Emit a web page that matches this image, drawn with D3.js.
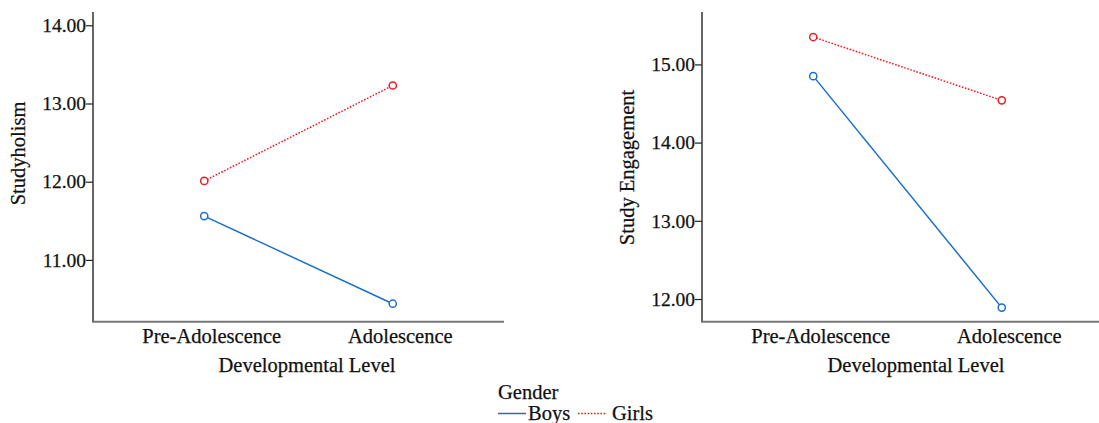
<!DOCTYPE html>
<html>
<head>
<meta charset="utf-8">
<script src="https://cdn.jsdelivr.net/npm/d3@7"></script>
<style>
  body { margin: 0; background: #fff; }
  svg { display: block; font-family: "Liberation Serif", serif; }
  text { fill: #111; stroke: #111; stroke-width: 0.25px; }
</style>
</head>
<body>
<svg id="chart" width="1099" height="423"></svg>
<script>
// ---- data ----
const categories = ["Pre-Adolescence", "Adolescence"];
const seriesNames = ["Boys", "Girls"];
const studyholismBoys = [11.56, 10.44];
const studyholismGirls = [12.01, 13.23];
const engagementBoys = [14.85, 11.89];
const engagementGirls = [15.35, 14.54];
const studyholismTicks = [11, 12, 13, 14];
const engagementTicks = [12, 13, 14, 15];

const colors = { Boys: "#1a70c6", Girls: "#ee1c25" };
const dashes = { Boys: null, Girls: "1.6,1.6" };

const svg = d3.select("#chart");
const tickFont = 19.5;
const fontSize = 20.5;

function panel(opts) {
  const g = svg.append("g");
  const x = d3.scalePoint().domain(categories).range([opts.left, opts.right]).padding(0.59);
  const y = d3.scaleLinear().domain(opts.domain).range([opts.bottom, opts.top]);

  // y axis
  const yAxis = g.append("g").attr("transform", `translate(${opts.left},0)`)
    .call(d3.axisLeft(y).tickValues(opts.ticks).tickFormat(d3.format(".2f")).tickSize(7).tickPadding(0));
  yAxis.select(".domain").remove();
  yAxis.selectAll(".tick line").attr("stroke", "#222").attr("stroke-width", 1.2);
  yAxis.selectAll(".tick text").attr("font-size", tickFont).attr("font-family", "Liberation Serif").attr("fill", "#111");
  g.append("line").attr("x1", opts.left).attr("x2", opts.left)
    .attr("y1", opts.top).attr("y2", opts.bottom + 0.8)
    .attr("stroke", "#333").attr("stroke-width", 1.5);

  // x axis
  const xAxis = g.append("g").attr("transform", `translate(0,${opts.bottom})`)
    .call(d3.axisBottom(x).tickSize(0).tickPadding(7));
  xAxis.select(".domain").remove();
  xAxis.selectAll(".tick text").attr("font-size", fontSize).attr("font-family", "Liberation Serif")
    .attr("fill", "#111").attr("dx", 7).attr("dy", "0.71em");
  g.append("line").attr("x1", opts.left).attr("x2", opts.right)
    .attr("y1", opts.bottom).attr("y2", opts.bottom)
    .attr("stroke", "#777").attr("stroke-width", 2);

  // axis titles
  g.append("text").attr("x", opts.xTitleX).attr("y", 372)
    .attr("text-anchor", "middle").attr("font-size", fontSize).text("Developmental Level");
  g.append("text").attr("transform", `translate(${opts.yTitleX},${opts.yTitleY}) rotate(-90)`)
    .attr("text-anchor", "middle").attr("font-size", fontSize).text(opts.yTitle);

  // lines & points
  const line = d3.line().x((d, i) => x(categories[i])).y(d => y(d));
  opts.series.forEach(s => {
    g.append("path").datum(s.values).attr("d", line)
      .attr("fill", "none").attr("stroke", colors[s.name]).attr("stroke-width", 1.5)
      .attr("stroke-dasharray", dashes[s.name]);
    g.selectAll(null).data(s.values).enter().append("circle")
      .attr("cx", (d, i) => x(categories[i])).attr("cy", d => y(d)).attr("r", 3.6)
      .attr("fill", "#fff").attr("stroke", colors[s.name]).attr("stroke-width", 1.5);
  });
}

panel({
  left: 93, right: 504, top: 12, bottom: 321.7,
  domain: [10.21, 14.17], ticks: studyholismTicks,
  yTitle: "Studyholism", yTitleX: 25, yTitleY: 153.5, xTitleX: 307,
  series: [
    { name: "Boys", values: studyholismBoys },
    { name: "Girls", values: studyholismGirls }
  ]
});

panel({
  left: 702, right: 1113, top: 12, bottom: 321.7,
  domain: [11.71, 15.67], ticks: engagementTicks,
  yTitle: "Study Engagement", yTitleX: 634, yTitleY: 167.5, xTitleX: 916,
  series: [
    { name: "Boys", values: engagementBoys },
    { name: "Girls", values: engagementGirls }
  ]
});

// legend
const lg = svg.append("g");
lg.append("text").attr("x", 498).attr("y", 399).attr("font-size", fontSize).text("Gender");
const legendItems = [
  { name: seriesNames[0], x1: 498, x2: 526, tx: 528 },
  { name: seriesNames[1], x1: 578, x2: 607, tx: 612 }
];
legendItems.forEach(it => {
  lg.append("line").attr("x1", it.x1).attr("x2", it.x2).attr("y1", 413.5).attr("y2", 413.5)
    .attr("stroke", colors[it.name]).attr("stroke-width", 1.5)
    .attr("stroke-dasharray", dashes[it.name]);
  lg.append("text").attr("x", it.tx).attr("y", 420).attr("font-size", fontSize).text(it.name);
});
</script>
</body>
</html>
